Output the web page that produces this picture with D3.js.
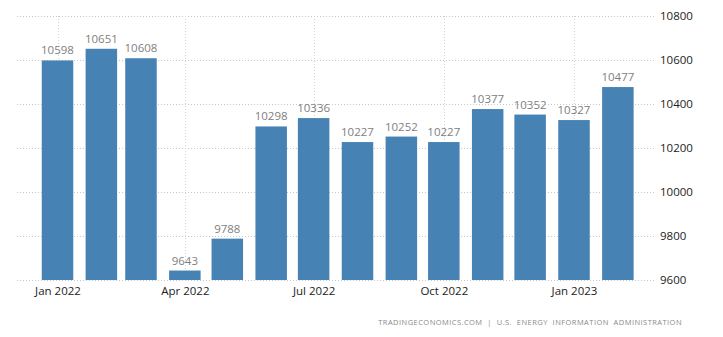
<!DOCTYPE html>
<html>
<head>
<meta charset="utf-8">
<script src="https://cdn.jsdelivr.net/npm/d3@7"></script>
<style>
  html, body { margin: 0; padding: 0; background: #fff; }
  svg { display: block; }
</style>
</head>
<body>
<svg id="chart" width="723" height="337"></svg>
<script>
// Monthly values, Jan 2022 – Feb 2023
const months = ["2022-01","2022-02","2022-03","2022-04","2022-05","2022-06","2022-07",
                "2022-08","2022-09","2022-10","2022-11","2022-12","2023-01","2023-02"];
const values = [10598, 10651, 10608, 9643, 9788, 10298, 10336,
                10227, 10252, 10227, 10377, 10352, 10327, 10477];
const yTicks = [9600, 9800, 10000, 10200, 10400, 10600, 10800];
const sourceText = "TRADINGECONOMICS.COM  |  U.S.  ENERGY  INFORMATION  ADMINISTRATION";

const parse = d3.utcParse("%Y-%m");
const data = months.map((m, i) => ({ date: parse(m), value: values[i] }));

const svg = d3.select("#chart");
const plotLeft = 17, plotRight = 655, plotTop = 16, plotBottom = 280;

// Time axis: bars sit on the first day of each month
const x = d3.scaleUtc()
  .domain([new Date(Date.UTC(2022, 0, 1)), new Date(Date.UTC(2023, 0, 1))])
  .range([57.5, 574]);

const y = d3.scaleLinear()
  .domain([9600, 10800])
  .range([plotBottom, plotTop]);

const barW = 31.5;
const font = "'Open Sans', 'DejaVu Sans', sans-serif";

// Horizontal grid
svg.append("g")
  .selectAll("line")
  .data(yTicks)
  .join("line")
  .attr("x1", plotLeft).attr("x2", plotRight)
  .attr("y1", d => y(d) + 0.5).attr("y2", d => y(d) + 0.5)
  .attr("stroke", "#c8c8c8")
  .attr("stroke-width", 1)
  .attr("stroke-dasharray", "1,2");

// Vertical grid at quarter starts
const xTicks = x.ticks(d3.utcMonth.every(3)).filter(d => x(d) >= plotLeft && x(d) <= plotRight);
svg.append("g")
  .selectAll("line")
  .data(xTicks)
  .join("line")
  .attr("x1", d => Math.round(x(d)) + 0.5).attr("x2", d => Math.round(x(d)) + 0.5)
  .attr("y1", plotTop).attr("y2", plotBottom)
  .attr("stroke", "#d4d4d4")
  .attr("stroke-width", 1)
  .attr("stroke-dasharray", "1,2");

// Bars
svg.append("g")
  .selectAll("rect")
  .data(data)
  .join("rect")
  .attr("x", d => x(d.date) - barW / 2)
  .attr("width", barW)
  .attr("y", d => y(d.value))
  .attr("height", d => y(9600) - y(d.value))
  .attr("fill", "#4682b4");

// Value labels
svg.append("g")
  .selectAll("text")
  .data(data)
  .join("text")
  .attr("x", d => x(d.date))
  .attr("y", d => y(d.value) - 6)
  .attr("text-anchor", "middle")
  .attr("font-family", font)
  .attr("font-size", 11.5)
  .attr("fill", "#808080")
  .text(d => d.value);

// Right value axis
const yAxis = d3.axisRight(y).tickValues(yTicks).tickSize(0).tickPadding(0).tickFormat(d3.format("d"));
svg.append("g")
  .attr("transform", `translate(660,0)`)
  .call(yAxis)
  .call(g => g.select(".domain").remove())
  .call(g => g.selectAll("text")
    .attr("font-family", font)
    .attr("font-size", 11.5)
    .attr("fill", "#222"));

// Bottom time axis
const xAxis = d3.axisBottom(x).tickValues(xTicks).tickSize(0).tickPadding(0).tickFormat(d3.utcFormat("%b %Y"));
svg.append("g")
  .attr("transform", `translate(0,${plotBottom + 7})`)
  .call(xAxis)
  .call(g => g.select(".domain").remove())
  .call(g => g.selectAll("text")
    .attr("font-family", font)
    .attr("font-size", 11.5)
    .attr("fill", "#222"));

// Source line
svg.append("text")
  .attr("x", 682)
  .attr("y", 325)
  .attr("text-anchor", "end")
  .attr("font-family", font)
  .attr("font-size", 7.5)
  .attr("letter-spacing", 0.45)
  .attr("fill", "#8a8a8a")
  .attr("xml:space", "preserve")
  .style("white-space", "pre")
  .text(sourceText);
</script>
</body>
</html>
